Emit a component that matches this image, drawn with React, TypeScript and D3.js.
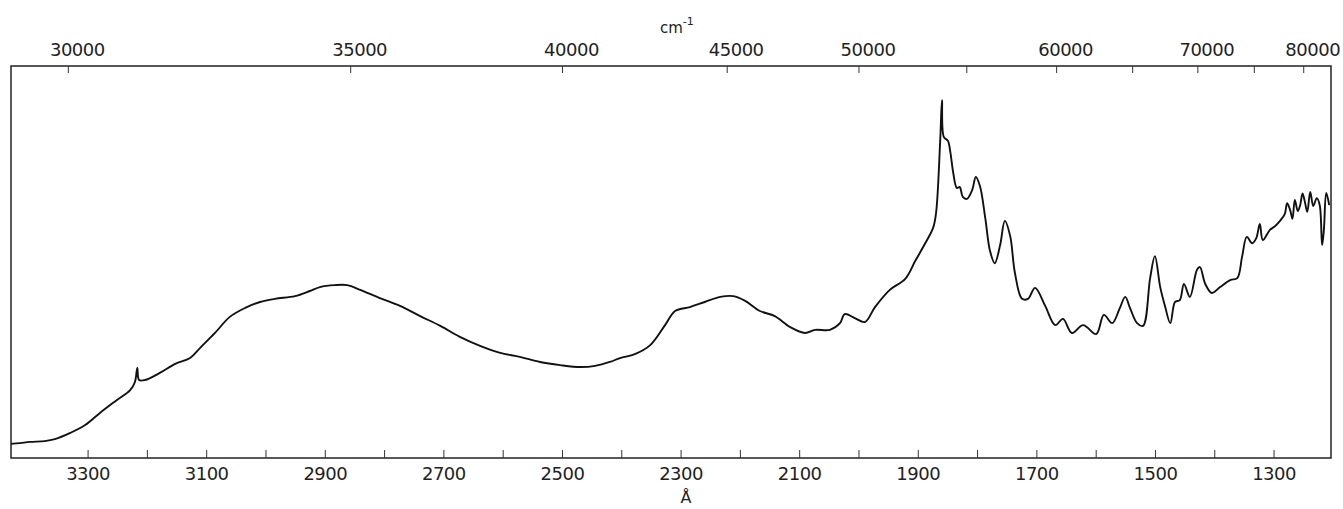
import React from 'react';
import * as d3 from 'd3';

// wavelength (Å)
const wavelength = [3430, 3415, 3398, 3373, 3356, 3330, 3305, 3280, 3254, 3229, 3221, 3217, 3214, 3204, 3179, 3153, 3128, 3111, 3086, 3061, 3035, 3010, 2985, 2951, 2926, 2909, 2884, 2863, 2841, 2808, 2774, 2740, 2706, 2673, 2639, 2605, 2572, 2538, 2504, 2470, 2445, 2420, 2403, 2378, 2352, 2327, 2310, 2285, 2260, 2234, 2212, 2192, 2167, 2142, 2116, 2091, 2074, 2049, 2032, 2024, 2007, 1990, 1973, 1948, 1922, 1905, 1889, 1875, 1870, 1863, 1860, 1857, 1850, 1846, 1841, 1835, 1830, 1825, 1818, 1809, 1803, 1796, 1787, 1779, 1771, 1762, 1754, 1745, 1737, 1725, 1715, 1703, 1686, 1669, 1656, 1641, 1622, 1600, 1587, 1573, 1560, 1551, 1543, 1531, 1521, 1509, 1501, 1492, 1484, 1475, 1467, 1459, 1452, 1442, 1430, 1425, 1416, 1405, 1391, 1374, 1362, 1354, 1346, 1337, 1330, 1324, 1319, 1307, 1298, 1290, 1282, 1278, 1273, 1269, 1265, 1260, 1256, 1252, 1248, 1244, 1239, 1234, 1228, 1223, 1219, 1216, 1212, 1207];

// relative absorption (arbitrary units, 0-100)
const absorption = [3.6, 3.8, 4.1, 4.3, 4.8, 6.4, 8.4, 11.5, 14.5, 17.3, 19.4, 23.0, 19.9, 19.9, 21.7, 24.0, 25.5, 28.1, 31.9, 36.0, 38.3, 39.8, 40.6, 41.3, 42.6, 43.6, 44.1, 44.1, 42.9, 40.8, 38.8, 36.2, 33.7, 30.9, 28.6, 26.8, 25.8, 24.5, 23.7, 23.2, 23.5, 24.5, 25.5, 26.5, 28.8, 33.9, 37.5, 38.5, 39.8, 41.1, 41.3, 40.1, 37.5, 36.2, 33.4, 31.9, 32.7, 32.7, 34.4, 36.7, 35.7, 34.7, 38.5, 42.9, 45.7, 50.3, 54.6, 58.7, 62.5, 81.1, 91.3, 81.9, 80.9, 78.1, 72.7, 68.9, 69.1, 66.6, 66.1, 68.4, 71.7, 69.4, 61.2, 52.8, 49.7, 54.3, 60.5, 56.6, 47.2, 40.6, 40.6, 43.4, 38.8, 33.9, 35.5, 31.9, 33.9, 31.6, 36.5, 34.4, 38.3, 41.1, 38.3, 34.4, 33.7, 45.9, 51.5, 43.6, 38.8, 34.4, 39.8, 40.3, 44.4, 41.1, 48.0, 48.7, 44.4, 42.1, 43.6, 45.4, 45.9, 51.3, 56.4, 54.8, 56.1, 59.7, 55.6, 58.2, 59.2, 60.5, 62.2, 65.0, 63.3, 61.0, 65.8, 63.0, 64.5, 67.5, 65.3, 62.8, 67.9, 64.3, 66.3, 64.5, 54.3, 58.2, 67.6, 64.5];

const angstromTicks = [3300, 3200, 3100, 3000, 2900, 2800, 2700, 2600, 2500, 2400, 2300, 2200, 2100, 2000, 1900, 1800, 1700, 1600, 1500, 1400, 1300];
const angstromLabels = [3300, 3100, 2900, 2700, 2500, 2300, 2100, 1900, 1700, 1500, 1300];
const waveTicks = [30000, 35000, 40000, 45000, 50000, 55000, 60000, 65000, 70000, 75000, 80000];
const waveLabels = [30000, 35000, 40000, 45000, 50000, 60000, 70000, 80000];

const convertData = wavelength.map((w, i) => ({ w, a: absorption[i] }));

export default class App extends React.Component {

    componentDidMount() {
        this._setupD3();
    }

    componentDidUpdate() {
        this._setupD3();
    }

    render() {
        return (
            <div id="graph" style={{ position: 'absolute', left: 0, top: 0 }} />
        )
    }

    _setupD3 = () => {
        let width = 1343, height = 509,
            margin = ({ top: 66, right: 12, bottom: 51, left: 11 }),
            font = "'DejaVu Sans', sans-serif",
            // lower axis, wavelength decreasing to the right
            x = d3.scaleLinear()
                .domain([3430, 1204])
                .range([margin.left, width - margin.right]),
            y = d3.scaleLinear()
                .domain([0, 100])
                .range([height - margin.bottom, margin.top]),
            // upper axis in wavenumbers (cm-1)
            xTop = (nu: number) => x(1e8 / nu),
            line = d3.line<{ w: number, a: number }>()
                .curve(d3.curveCatmullRom.alpha(0.5))
                .x(d => x(d.w))
                .y(d => y(d.a));

        d3.select("#graph").select("svg").remove();
        let svg = d3.select("#graph").append("svg")
            .attr("width", width)
            .attr("height", height)
            .style("display", "block")
            .style("background", "#fff");

        const x0 = margin.left, x1 = width - margin.right,
            y0 = margin.top, y1 = height - margin.bottom;

        // frame
        svg.append("rect")
            .attr("x", x0).attr("y", y0)
            .attr("width", x1 - x0).attr("height", y1 - y0)
            .attr("fill", "none").attr("stroke", "#222").attr("stroke-width", 1.5);

        // bottom ticks
        svg.append("g").selectAll("line").data(angstromTicks).join("line")
            .attr("x1", d => x(d)).attr("x2", d => x(d))
            .attr("y1", y1).attr("y2", y1 - 8)
            .attr("stroke", "#333").attr("stroke-width", 1);

        svg.append("g").selectAll("text").data(angstromLabels).join("text")
            .attr("x", d => x(d)).attr("y", 480)
            .attr("text-anchor", "middle")
            .attr("font-family", font).attr("font-size", 18)
            .attr("letter-spacing", -0.5)
            .attr("fill", "#222")
            .text(d => d);

        // top ticks
        svg.append("g").selectAll("line").data(waveTicks).join("line")
            .attr("x1", d => xTop(d)).attr("x2", d => xTop(d))
            .attr("y1", y0).attr("y2", y0 + 7)
            .attr("stroke", "#333").attr("stroke-width", 1);

        svg.append("g").selectAll("text").data(waveLabels).join("text")
            .attr("x", d => xTop(d) + 9).attr("y", 56)
            .attr("text-anchor", "middle")
            .attr("font-family", font).attr("font-size", 18)
            .attr("letter-spacing", -0.5)
            .attr("fill", "#222")
            .text(d => d);

        // axis titles
        const cm = svg.append("text")
            .attr("x", 660).attr("y", 33)
            .attr("font-family", font).attr("font-size", 15)
            .attr("fill", "#222");
        cm.append("tspan").text("cm");
        cm.append("tspan").attr("dy", -8).attr("font-size", 11).text("-1");

        svg.append("text")
            .attr("x", 686).attr("y", 503)
            .attr("text-anchor", "middle")
            .attr("font-family", font).attr("font-size", 16)
            .attr("fill", "#222")
            .text("Å");

        // spectrum
        svg.append("path")
            .datum(convertData)
            .attr("fill", "none")
            .attr("stroke", "#111")
            .attr("stroke-width", 1.9)
            .attr("stroke-linejoin", "round")
            .attr("d", line);
    }
}
